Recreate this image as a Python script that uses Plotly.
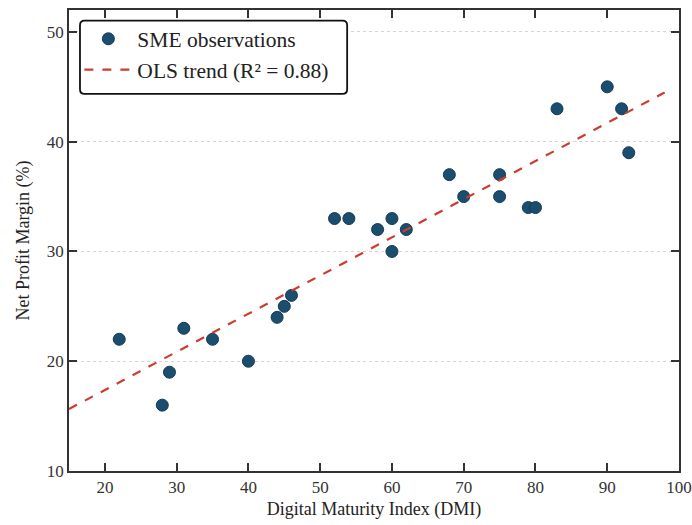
import numpy as np
import plotly.graph_objects as go

dmi = [22, 28, 29, 31, 35, 40, 44, 45, 46, 52, 54, 58, 60, 60, 62, 68, 70, 75, 75, 79, 80, 83, 90, 92, 93]
npm = [22, 16, 19, 23, 22, 20, 24, 25, 26, 33, 33, 32, 33, 30, 32, 37, 35, 37, 35, 34, 34, 43, 45, 43, 39]
x_ticks = [20, 30, 40, 50, 60, 70, 80, 90, 100]
y_ticks = [10, 20, 30, 40, 50]
trend_range = [15, 98]

slope, intercept = np.polyfit(dmi, npm, 1)
tx = np.array(trend_range, dtype=float)
ty = slope * tx + intercept

font = "Liberation Serif, Times New Roman, serif"

fig = go.Figure()
fig.add_trace(go.Scatter(
    x=dmi, y=npm, mode="markers", name="SME observations",
    marker=dict(size=12, color="#1b4d6e", line=dict(color="#143a55", width=1)),
))
fig.add_trace(go.Scatter(
    x=tx, y=ty, mode="lines", name="OLS trend (R² = 0.88)",
    line=dict(color="#cc3d2f", width=2.2, dash="dash"),
))

axis_common = dict(
    showline=True, linecolor="#333", linewidth=1.6, mirror="ticks",
    ticks="inside", ticklen=8, tickwidth=1.5, tickcolor="#333",
    tickfont=dict(family=font, size=17, color="#333"), zeroline=False,
    ticklabeloverflow="allow", automargin=False,
)
fig.update_xaxes(range=[15, 100], tickvals=x_ticks, showgrid=False,
                 title=dict(text="Digital Maturity Index (DMI)", font=dict(family=font, size=18, color="#222"), standoff=6),
                 **axis_common)
fig.update_yaxes(range=[10, 52], tickvals=y_ticks, showgrid=True, gridcolor="#d5d5d5",
                 griddash="dot", gridwidth=1,
                 title=dict(text="Net Profit Margin (%)", font=dict(family=font, size=18, color="#222"), standoff=12),
                 **axis_common)

# rounded legend frame (matplotlib-style fancy box)
x0, x1, y0, y1 = 0.018, 0.456, 0.818, 0.977
rx, ry = 0.0075, 0.01
path = (f"M {x0+rx},{y0} L {x1-rx},{y0} Q {x1},{y0} {x1},{y0+ry} "
        f"L {x1},{y1-ry} Q {x1},{y1} {x1-rx},{y1} "
        f"L {x0+rx},{y1} Q {x0},{y1} {x0},{y1-ry} "
        f"L {x0},{y0+ry} Q {x0},{y0} {x0+rx},{y0} Z")
fig.add_shape(type="path", path=path, xref="paper", yref="paper",
              fillcolor="white", line=dict(color="#111", width=1.8), layer="above")

fig.update_layout(
    width=692, height=525,
    margin=dict(l=69, r=13, t=10, b=54, autoexpand=False),
    plot_bgcolor="white", paper_bgcolor="white",
    font=dict(family=font, color="#222"),
    legend=dict(x=0.017, y=0.982, xanchor="left", yanchor="top",
                bgcolor="rgba(0,0,0,0)", borderwidth=0,
                font=dict(family=font, size=21.5, color="#222"),
                itemwidth=48, tracegroupgap=0),
)

fig.write_html("out.html",
               config={"responsive": False, "displayModeBar": False},
               post_script="document.body.style.margin='0';document.body.style.overflow='hidden';")
